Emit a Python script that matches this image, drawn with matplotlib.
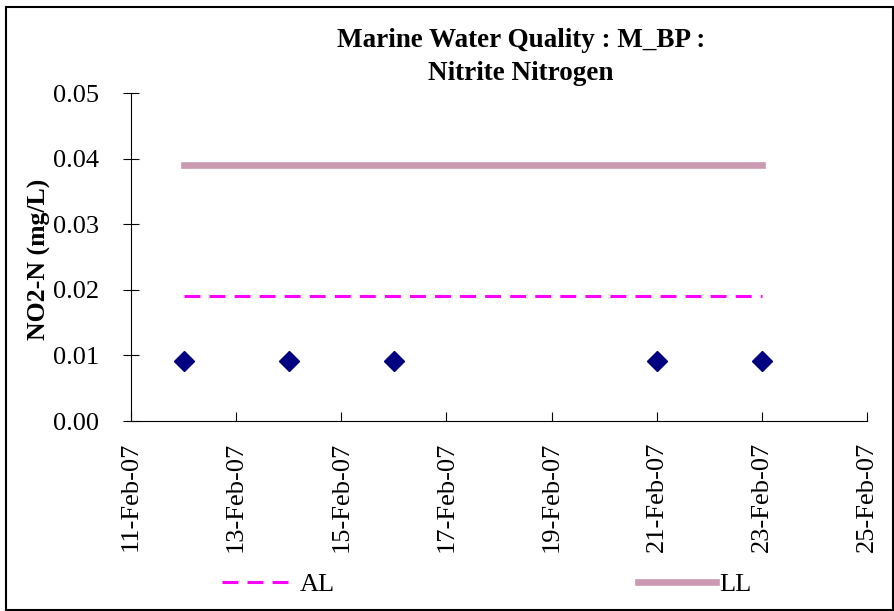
import matplotlib.pyplot as plt
import matplotlib.dates as mdates
import numpy as np
from datetime import datetime
from matplotlib.patches import Rectangle

plt.rcParams['font.family'] = ['Liberation Serif', 'DejaVu Serif']

# sample dates and NO2-N values
dates = [datetime(2007, 2, 12), datetime(2007, 2, 14), datetime(2007, 2, 16),
         datetime(2007, 2, 21), datetime(2007, 2, 23)]
values = [0.0092, 0.0092, 0.0092, 0.0092, 0.0092]

# limit lines
limit_dates = [datetime(2007, 2, 12), datetime(2007, 2, 23)]
al_values = [0.019, 0.019]
ll_values = [0.039, 0.039]

xticks = [datetime(2007, 2, d) for d in range(11, 26, 2)]
yticks = [0.00, 0.01, 0.02, 0.03, 0.04, 0.05]

fig = plt.figure(figsize=(8.95, 6.11), dpi=100)
ax = fig.add_axes([131 / 895, 1 - 421 / 611, (867 - 131) / 895, (421 - 93) / 611])

ax.plot(dates, values, linestyle='none', marker='D', markersize=10,
        color='#000080')
al, = ax.plot(limit_dates, al_values, color='#FF00FF', linewidth=2.2,
              dashes=(5.2, 3), solid_capstyle='butt')
ll, = ax.plot(limit_dates, ll_values, color='#CC99B3', linewidth=4.8,
              solid_capstyle='projecting')

ax.set_xlim(datetime(2007, 2, 11), datetime(2007, 2, 25))
ax.set_ylim(0, 0.05)
ax.set_xticks(xticks)
ax.xaxis.set_major_formatter(mdates.DateFormatter('%d-%b-%y'))
ax.set_yticks(yticks)
ax.set_yticklabels(['%.2f' % v for v in yticks])

ax.spines['top'].set_visible(False)
ax.spines['right'].set_visible(False)
ax.tick_params(axis='x', direction='in', length=6.5, labelsize=19,
               labelrotation=90, pad=15)
ax.tick_params(axis='y', direction='inout', length=12, labelsize=19, pad=17)

ax.set_ylabel('NO2-N (mg/L)', fontsize=18.5, fontweight='bold')
ax.yaxis.set_label_coords(-(131 - 51) / 736, (421 - 259) / 328)

fig.text(521 / 895, 1 - 57 / 611, 'Marine Water Quality : M_BP :\nNitrite Nitrogen',
         ha='center', va='center', fontsize=19.5, fontweight='bold',
         linespacing=1.45)

fig.legend([al], ['AL'], loc='center left',
           bbox_to_anchor=(222 / 895, 1 - 584 / 611), frameon=False,
           fontsize=19, handlelength=2.5, handletextpad=0.45,
           borderaxespad=0, borderpad=0)
fig.legend([ll], ['LL'], loc='center left',
           bbox_to_anchor=(638 / 895, 1 - 584 / 611), frameon=False,
           fontsize=19, handlelength=2.95, handletextpad=0.12,
           borderaxespad=0, borderpad=0)

fig.patches.append(Rectangle((6 / 895, 0.002), 1 - 8 / 895, 1 - 8 / 611,
                             transform=fig.transFigure, fill=False,
                             edgecolor='black', linewidth=1.5))

fig.savefig('out.png', dpi=100)
